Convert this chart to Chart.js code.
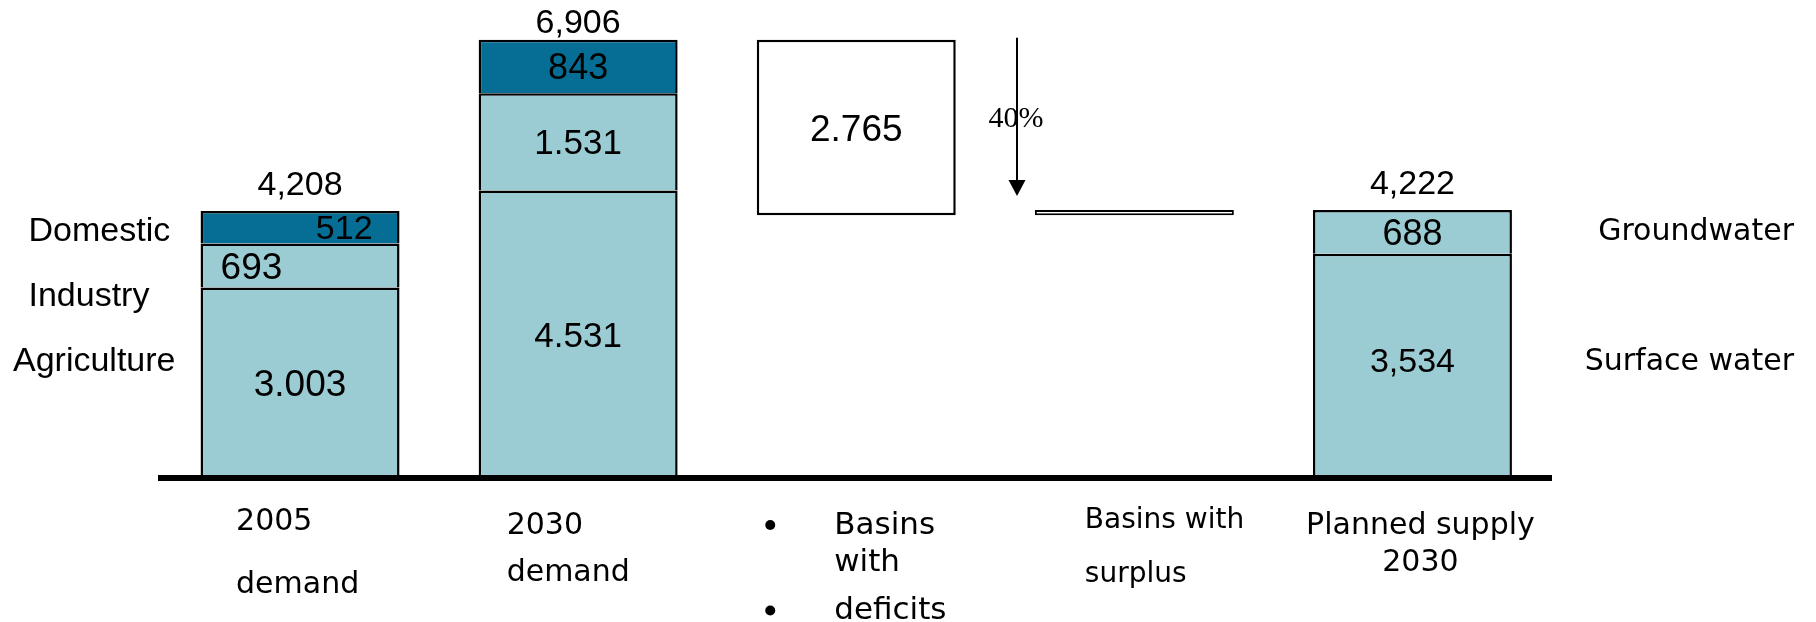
<!DOCTYPE html>
<html>
<head>
<meta charset="utf-8">
<title>Water demand and supply 2030</title>
<script src="https://cdn.jsdelivr.net/npm/chart.js@4.4.0/dist/chart.umd.min.js"></script>
<style>
  html, body { margin: 0; padding: 0; background: #fff; }
  #wrap { width: 1816px; height: 622px; }
</style>
</head>
<body>
<div id="wrap"><canvas id="water-chart" width="1816" height="622"></canvas></div>
<script>
// categories along the bottom (each entry = lines of the label)
const categories = [
    ['2005', 'demand'],
    ['2030', 'demand'],
    ['Basins', 'with', 'deficits'],
    ['Basins with', 'surplus'],
    ['Planned supply', '2030']
]

// demand by sector
const agriculture = [3003, 4531, null, null, null]
const industry = [693, 1531, null, null, null]
const domestic = [512, 843, null, null, null]

// basins: floating [from, to]
const deficit = [null, null, [4141, 6906], null, null]
const surplus = [null, null, null, [4141, 4222], null]

// planned supply by source
const surfaceWater = [null, null, null, null, 3534]
const groundwater = [null, null, null, null, 688]

// totals written above the stacks
const totals = [4208, 6906, null, null, 4222]
const reductionLabel = '40%'

const leftLabels = ['Domestic', 'Industry', 'Agriculture']
const rightLabels = ['Groundwater', null, 'Surface water']

const lightTeal = '#9CCCD3'
const darkTeal = '#066E95'
const numFont = '"Liberation Sans", Arial, sans-serif'
const textFont = '"DejaVu Sans", Verdana, sans-serif'
const serifFont = '"Liberation Serif", "Times New Roman", serif'

function pick(v, i) {
    return Array.isArray(v) ? v[i] : v
}

function fmt(v, sep) {
    return String(v).replace(/\B(?=(\d{3})+(?!\d))/g, sep)
}

function barSet(label, data, color, extra) {
    return Object.assign({
        label,
        data,
        backgroundColor: color,
        borderColor: '#000',
        borderWidth: 2.5,
        categoryPercentage: 1,
        barPercentage: 0.7155
    }, extra)
}

// how each category's text sits under the axis
const catText = [
    { align: 'left', dx: -64, size: 30, base: [530, 593] },
    { align: 'left', dx: -71.5, size: 30, base: [533.5, 581] },
    { align: 'left', dx: -22, size: 31, base: [533.5, 571, 619], bullets: [0, 2], bulletDx: -86 },
    { align: 'left', dx: -49.5, size: 28, base: [527.6, 582] },
    { align: 'center', dx: 8, size: 30, base: [533.5, 571] }
]
const rowY = [229, 294, 359]

const annotations = {
    id: 'annotations',
    afterDraw(chart) {
        const ctx = chart.ctx
        const xs = chart.scales.x
        const ys = chart.scales.y
        ctx.save()
        ctx.fillStyle = '#000'

        // values inside the bars
        chart.data.datasets.forEach((ds, di) => {
            if (ds.showValue === false) return
            const meta = chart.getDatasetMeta(di)
            meta.data.forEach((el, i) => {
                const raw = ds.data[i]
                if (raw === null || raw === undefined) return
                const v = Array.isArray(raw) ? raw[1] - raw[0] : raw
                const p = el.getProps(['x', 'y', 'base', 'width'], true)
                const size = pick(ds.valueSize, i)
                const align = pick(ds.valueAlign, i) || 'center'
                let x = p.x
                if (align === 'left') x = p.x - p.width / 2 + 20
                if (align === 'right') x = p.x + p.width / 2 - 27
                const cy = (p.y + p.base) / 2 + (ds.valueDy || 0)
                ctx.font = `${size}px ${numFont}`
                ctx.textAlign = align
                ctx.textBaseline = 'alphabetic'
                ctx.fillText(fmt(v, ds.valueSep), x, cy + size * 0.358)
            })
        })

        // totals
        ctx.font = `34px ${numFont}`
        ctx.textAlign = 'center'
        totals.forEach((t, i) => {
            if (t === null) return
            const top = ys.getPixelForValue(t)
            const cy = Math.max(top - 28.5, 21)
            ctx.fillText(fmt(t, ','), xs.getPixelForValue(i), cy + 34 * 0.358)
        })

        // series names at the sides
        ctx.font = `34px ${numFont}`
        ctx.textAlign = 'left'
        leftLabels.forEach((t, r) => {
            const x = r === 2 ? 13 : 28.5
            ctx.fillText(t, x, rowY[r] + 34 * 0.358)
        })
        ctx.font = `30px ${textFont}`
        ctx.textAlign = 'right'
        rightLabels.forEach((t, r) => {
            if (!t) return
            ctx.fillText(t, 1794, rowY[r] + 30 * 0.364)
        })

        // category labels under the axis
        categories.forEach((lines, i) => {
            const c = catText[i]
            const cx = xs.getPixelForValue(i)
            ctx.font = `${c.size}px ${textFont}`
            ctx.textAlign = c.align
            lines.forEach((line, k) => {
                ctx.fillText(line, cx + c.dx, c.base[k])
            })
            ;(c.bullets || []).forEach(k => {
                ctx.beginPath()
                ctx.arc(cx + c.bulletDx, c.base[k] - 8.5, 5, 0, Math.PI * 2)
                ctx.fill()
            })
        })

        // arrow from deficit level down to surplus level
        const surplusMeta = chart.getDatasetMeta(4)
        const sEl = surplusMeta.data[3].getProps(['x', 'width'], true)
        const ax = Math.round(sEl.x - sEl.width / 2 - 17.5)
        const aTop = ys.getPixelForValue(deficit[2][1]) - 2
        const aTip = ys.getPixelForValue(surplus[3][1]) - 14
        ctx.strokeStyle = '#000'
        ctx.lineWidth = 2
        ctx.beginPath()
        ctx.moveTo(ax, aTop)
        ctx.lineTo(ax, aTip - 14)
        ctx.stroke()
        ctx.beginPath()
        ctx.moveTo(ax - 8.5, aTip - 16)
        ctx.lineTo(ax + 8.5, aTip - 16)
        ctx.lineTo(ax, aTip)
        ctx.closePath()
        ctx.fill()
        ctx.font = `30px ${serifFont}`
        ctx.textAlign = 'center'
        ctx.fillText(reductionLabel, ax - 1, (aTop + aTip) / 2 + 30 * 0.338)

        ctx.restore()
    }
}

const data = {
    labels: categories,
    datasets: [
        barSet('Agriculture', agriculture, lightTeal, { valueSep: '.', valueSize: [37, 35] }),
        barSet('Industry', industry, lightTeal, { valueSep: '.', valueSize: [37, 35], valueAlign: ['left', 'center'] }),
        barSet('Domestic', domestic, darkTeal, { valueSep: '.', valueSize: [34, 36], valueAlign: ['right', 'center'] }),
        barSet('Basins with deficits', deficit, '#fff', { borderSkipped: false, valueSep: '.', valueSize: 37 }),
        barSet('Basins with surplus', surplus, '#fff', { borderSkipped: false, borderWidth: 2, showValue: false }),
        barSet('Surface water', surfaceWater, lightTeal, { valueSep: ',', valueSize: 34, valueDy: -6 }),
        barSet('Groundwater', groundwater, lightTeal, { valueSep: ',', valueSize: 36 })
    ]
}

const config = {
    type: 'bar',
    data,
    options: {
        responsive: false,
        animation: false,
        devicePixelRatio: 1,
        layout: {
            padding: { left: 161, right: 264.5, top: 33.8, bottom: 144 }
        },
        plugins: {
            legend: { display: false },
            tooltip: { enabled: false }
        },
        scales: {
            x: {
                stacked: true,
                grid: { display: false, drawTicks: false },
                ticks: { display: false },
                border: { display: true, width: 6, color: '#000', z: 1 }
            },
            y: {
                stacked: true,
                display: false,
                min: 0,
                max: 7000
            }
        }
    },
    plugins: [annotations]
}

const waterChart = new Chart(document.getElementById('water-chart').getContext('2d'), config)
</script>
</body>
</html>
